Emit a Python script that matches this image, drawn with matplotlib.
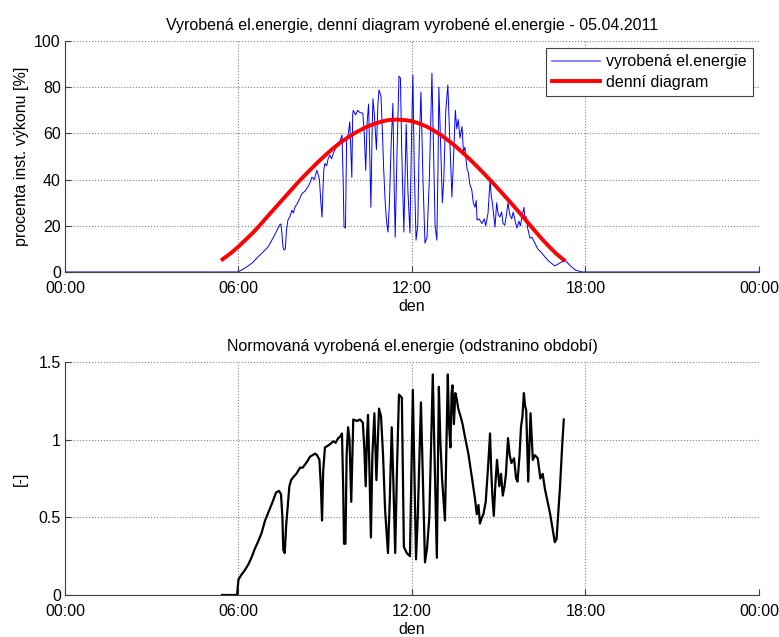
import matplotlib
matplotlib.use("Agg")
import matplotlib.pyplot as plt

plt.rcParams['font.family'] = ['Liberation Sans', 'DejaVu Sans']
FS = 11.5

# ---- DATA (time in hours of the day) ----
# produced energy, percent of installed power
blue_t = [0.0, 5.97, 6.1, 6.22, 6.35, 6.5, 6.67, 6.8, 6.92, 7.02, 7.12, 7.25, 7.37, 7.43,
          7.47, 7.5, 7.54, 7.57, 7.62, 7.66, 7.71, 7.78, 7.85, 7.9, 7.95, 8.05, 8.2, 8.3,
          8.4, 8.47, 8.54, 8.62, 8.71, 8.76, 8.8, 8.85, 8.89, 8.92, 8.95, 8.99, 9.05,
          9.1, 9.16, 9.22, 9.3, 9.38, 9.45, 9.52, 9.58, 9.62, 9.65, 9.7, 9.74, 9.8,
          9.85, 9.88, 9.92, 9.95, 9.97, 10.05, 10.12, 10.2, 10.3, 10.35, 10.4, 10.45,
          10.5, 10.54, 10.58, 10.62, 10.65, 10.7, 10.77, 10.82, 10.86, 10.93, 10.98,
          11.02, 11.07, 11.12, 11.17, 11.22, 11.28, 11.34, 11.38, 11.42, 11.48, 11.55,
          11.6, 11.65, 11.72, 11.76, 11.8, 11.86, 11.93, 11.98, 12.03, 12.08, 12.14,
          12.2, 12.25, 12.31, 12.38, 12.45, 12.52, 12.6, 12.69, 12.75, 12.8, 12.86,
          12.9, 12.93, 12.98, 13.05, 13.1, 13.17, 13.24, 13.3, 13.38, 13.44, 13.5,
          13.55, 13.6, 13.66, 13.73, 13.78, 13.83, 13.9, 13.95, 14.0, 14.07, 14.12,
          14.18, 14.22, 14.25, 14.32, 14.42, 14.5, 14.55, 14.63, 14.7, 14.74, 14.78,
          14.83, 14.87, 14.93, 14.98, 15.04, 15.1, 15.15, 15.21, 15.27, 15.32, 15.38,
          15.45, 15.5, 15.57, 15.63, 15.7, 15.75, 15.82, 15.87, 15.92, 15.95, 16.0,
          16.08, 16.15, 16.25, 16.35, 16.49, 16.6, 16.75, 16.94, 17.1, 17.29, 17.45,
          17.64, 17.88, 24.0]
blue_v = [0.0, 0.0, 0.8, 1.7, 2.8, 4.2, 6.5, 8.0, 9.5, 10.8, 13.0, 16.0, 19.0, 20.5,
          20.8, 17.0, 11.0, 9.5, 10.0, 18.0, 22.5, 24.0, 26.8, 25.5, 28.0, 30.0, 34.0, 35.0,
          36.8, 38.5, 41.1, 40.0, 44.0, 42.0, 40.0, 30.0, 23.8, 35.0, 44.0, 47.0, 46.0,
          49.0, 50.6, 49.0, 52.0, 54.0, 55.8, 57.0, 59.3, 40.0, 19.5, 19.0, 57.0, 60.0,
          65.0, 55.0, 41.0, 68.0, 70.0, 68.0, 70.0, 69.0, 68.8, 60.0, 44.0, 65.0,
          72.7, 50.0, 28.0, 60.0, 75.0, 68.0, 53.0, 72.0, 78.8, 76.0, 60.0,
          45.0, 31.0, 22.0, 17.3, 30.0, 55.0, 73.0, 40.0, 15.0, 50.0, 84.8,
          84.0, 50.0, 17.3, 40.0, 64.0, 35.0, 16.9, 55.0, 85.3, 45.0, 13.8,
          20.0, 55.0, 78.0, 40.0, 12.5, 15.0, 40.0, 86.1, 50.0, 20.0, 13.8,
          45.0, 80.0, 60.0, 30.0, 40.0, 70.0, 81.0, 60.0, 32.5, 50.0, 70.0,
          62.0, 66.0, 58.0, 63.0, 52.0, 54.0, 45.0, 43.0, 38.0, 35.5, 30.0,
          28.0, 31.0, 22.5, 23.0, 21.0, 23.0, 20.0, 25.5, 40.0, 33.0, 30.0,
          24.0, 19.5, 30.0, 25.0, 23.8, 26.0, 21.0, 20.3, 25.0, 30.0, 25.0,
          23.0, 26.0, 22.0, 19.0, 22.0, 20.0, 25.0, 28.0, 22.0, 24.0, 19.0,
          14.7, 15.0, 12.5, 10.0, 8.2, 6.5, 4.5, 2.6, 3.8, 5.2, 3.0,
          0.9, 0.0, 0.0]

# daily diagram
red_t = [5.45, 5.75, 6.0, 6.25, 6.5, 6.75, 7.0, 7.25, 7.5, 7.75, 8.0, 8.25, 8.5, 8.75,
         9.0, 9.25, 9.5, 9.75, 10.0, 10.25, 10.5, 10.75, 11.0, 11.2, 11.4, 11.6, 11.8,
         12.0, 12.25, 12.5, 12.75, 13.0, 13.25, 13.5, 13.75, 14.0, 14.25, 14.5, 14.75,
         15.0, 15.25, 15.5, 15.75, 16.0, 16.25, 16.5, 16.75, 17.0, 17.25]
red_v = [5.5, 8.3, 11.0, 14.0, 17.0, 20.4, 24.0, 27.5, 31.0, 34.5, 38.0, 41.3, 44.5, 47.6,
         50.5, 53.3, 55.8, 58.0, 60.0, 61.7, 63.2, 64.4, 65.3, 65.8, 66.0, 65.9, 65.7,
         65.3, 64.3, 63.0, 61.3, 59.3, 57.0, 54.5, 51.7, 48.8, 45.7, 42.5, 39.2,
         35.8, 32.3, 28.8, 25.2, 21.5, 17.8, 14.2, 10.9, 7.8, 5.2]

# normalised produced energy
norm_t = [5.43, 5.95, 6.0, 6.1, 6.22, 6.35, 6.47, 6.57, 6.67, 6.8, 6.92, 7.05, 7.16,
          7.3, 7.4, 7.47, 7.52, 7.55, 7.6, 7.65, 7.71, 7.76, 7.82, 7.9, 8.0, 8.13, 8.22,
          8.3, 8.38, 8.47, 8.56, 8.65, 8.72, 8.8, 8.85, 8.89, 8.93, 8.99, 9.08, 9.16,
          9.28, 9.36, 9.45, 9.52, 9.58, 9.62, 9.65, 9.7, 9.74, 9.79, 9.84, 9.9, 9.97,
          10.1, 10.2, 10.3, 10.35, 10.4, 10.44, 10.48, 10.53, 10.58, 10.63, 10.7, 10.77,
          10.82, 10.86, 10.93, 11.0, 11.07, 11.17, 11.23, 11.3, 11.36, 11.42, 11.48,
          11.55, 11.65, 11.72, 11.82, 11.93, 12.03, 12.14, 12.2, 12.31, 12.45, 12.52,
          12.6, 12.72, 12.78, 12.86, 12.93, 12.98, 13.04, 13.14, 13.24, 13.28, 13.33,
          13.37, 13.4, 13.45, 13.5, 13.55, 13.6, 13.68, 13.75, 13.83, 13.95, 14.07,
          14.18, 14.24, 14.3, 14.35, 14.42, 14.47, 14.55, 14.63, 14.7, 14.74, 14.78,
          14.83, 14.88, 14.94, 15.02, 15.08, 15.14, 15.2, 15.25, 15.32, 15.38, 15.44,
          15.53, 15.6, 15.65, 15.72, 15.77, 15.82, 15.87, 15.91, 15.95, 16.02, 16.1,
          16.18, 16.25, 16.35, 16.44, 16.52, 16.6, 16.77, 16.94, 17.0, 17.12, 17.2,
          17.25]
norm_v = [0.0, 0.0, 0.1, 0.13, 0.16, 0.2, 0.25, 0.3, 0.34, 0.4, 0.48, 0.54, 0.59,
          0.66, 0.67, 0.65, 0.5, 0.29, 0.27, 0.45, 0.59, 0.7, 0.74, 0.76, 0.78, 0.82, 0.82,
          0.84, 0.86, 0.89, 0.9, 0.91, 0.9, 0.87, 0.7, 0.48, 0.8, 0.95, 0.96, 0.97,
          0.99, 0.98, 1.01, 1.02, 1.04, 0.7, 0.33, 0.33, 0.9, 1.08, 1.0, 0.6, 1.13,
          1.12, 1.13, 1.11, 0.95, 0.7, 1.0, 1.16, 0.8, 0.37, 0.9, 1.17, 0.74,
          1.0, 1.2, 1.15, 0.9, 0.55, 0.27, 0.6, 1.08, 0.7, 0.27, 0.8, 1.29,
          1.27, 0.31, 0.27, 0.25, 1.32, 0.23, 0.5, 1.24, 0.21, 0.3, 0.5, 1.42,
          0.9, 0.24, 1.34, 1.0, 0.75, 0.48, 1.42, 1.1, 0.95, 1.3, 1.35, 1.1,
          1.3, 1.26, 1.2, 1.15, 1.1, 1.02, 0.91, 0.76, 0.62, 0.52, 0.58, 0.46,
          0.5, 0.52, 0.6, 0.82, 1.04, 0.8, 0.64, 0.51, 0.7, 0.87, 0.7, 0.78,
          0.64, 0.7, 0.78, 1.01, 0.9, 0.85, 0.88, 0.75, 0.73, 0.9, 1.08, 1.15,
          1.3, 1.22, 1.19, 0.73, 1.17, 0.87, 0.9, 0.88, 0.75, 0.78, 0.68, 0.53,
          0.34, 0.36, 0.7, 0.98, 1.13]

x_ticks = [0, 6, 12, 18, 24]
x_labels = ["00:00", "06:00", "12:00", "18:00", "00:00"]


def style_axes(ax):
    ax.set_xlim(0, 24)
    ax.set_xticks(x_ticks)
    ax.set_xticklabels(x_labels)
    ax.grid(True, linestyle=':', color='#808080', linewidth=0.8)
    ax.spines['top'].set_visible(False)
    ax.spines['right'].set_visible(False)
    for s in ('left', 'bottom'):
        ax.spines[s].set_color('#404040')
    ax.tick_params(direction='in', length=4, color='#404040', labelsize=FS)
    ax.tick_params(axis='x', pad=6.5)
    ax.tick_params(axis='y', pad=3)
    ax.set_xlabel("den", labelpad=2, fontsize=FS)


fig = plt.figure(figsize=(7.79, 6.37), dpi=100)

ax1 = fig.add_axes([0.0834, 0.573, 0.8909, 0.3626])
ax1.plot(blue_t, blue_v, color='#0000ff', linewidth=0.7, label='vyrobená el.energie')
ax1.plot(red_t, red_v, color='#ff0000', linewidth=2.8, label='denní diagram')
style_axes(ax1)
ax1.set_ylim(0, 100)
ax1.set_yticks([0, 20, 40, 60, 80, 100])
ax1.set_ylabel("procenta inst. výkonu [%]", labelpad=4, fontsize=FS)
ax1.set_title("Vyrobená el.energie, denní diagram vyrobené el.energie - 05.04.2011",
              fontsize=FS, pad=8)
leg = ax1.legend(loc='upper right', fancybox=False, framealpha=1, fontsize=FS,
                 borderpad=0.4, handlelength=3.0, handletextpad=0.4, labelspacing=0.35,
                 borderaxespad=0, bbox_to_anchor=(0.992, 0.97))
leg.get_frame().set_edgecolor('#404040')
leg.get_frame().set_linewidth(0.8)
leg.get_lines()[0].set_color('#6f6fff')
leg.get_lines()[0].set_linewidth(1.2)

ax2 = fig.add_axes([0.0834, 0.0659, 0.8909, 0.3658])
ax2.plot(norm_t, norm_v, color='black', linewidth=1.6)
style_axes(ax2)
ax2.set_ylim(0, 1.5)
ax2.set_yticks([0, 0.5, 1, 1.5])
ax2.set_yticklabels(["0", "0.5", "1", "1.5"])
ax2.set_ylabel("[-]", labelpad=8, fontsize=FS)
ax2.set_title("Normovaná vyrobená el.energie (odstranino období)", fontsize=FS, pad=8)

fig.savefig("out.png", dpi=100)
